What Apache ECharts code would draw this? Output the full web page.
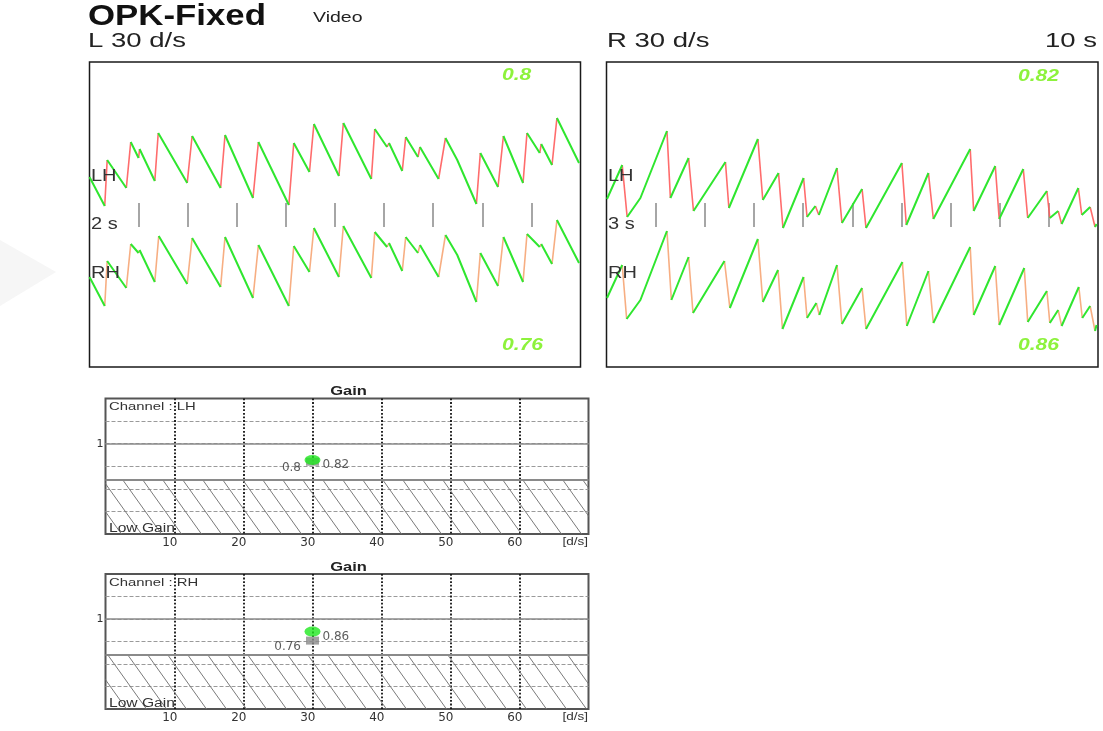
<!DOCTYPE html>
<html><head><meta charset="utf-8">
<script src="https://cdn.jsdelivr.net/npm/echarts@6/dist/echarts.min.js"></script>
<style>html,body{margin:0;padding:0;background:#fff}#c{width:1103px;height:731px}</style>
</head><body><div id="c"></div>
<script>
// ---------------- DATA ----------------
// Eye position traces (time in s, position in trace units), vertices of the nystagmus sawtooth
const leftLH_t = [0,0.31,0.36,0.75,0.84,1.00,1.02,1.33,1.40,1.99,2.09,2.67,2.76,3.33,3.44,4.06,4.16,4.48,4.57,5.08,5.17,5.74,5.81,6.06,6.10,6.37,6.44,6.69,6.73,7.11,7.25,7.49,7.88,7.96,8.32,8.43,8.83,8.91,9.17,9.20,9.42,9.52,9.97];
const leftLH_p = [190,161,207,179,225,209,218,186,234,184,231,179,232,169,225,162,224,195,243,191,244,188,238,220,224,196,230,210,220,188,229,207,163,214,180,231,184,234,214,223,202,249,204];
const leftRH_t = [0,0.31,0.36,0.75,0.84,1.00,1.02,1.33,1.41,1.99,2.09,2.67,2.76,3.33,3.44,4.06,4.16,4.48,4.57,5.08,5.17,5.74,5.81,6.06,6.10,6.37,6.44,6.69,6.73,7.11,7.25,7.49,7.88,7.96,8.32,8.43,8.83,8.91,9.17,9.20,9.42,9.52,9.97];
const leftRH_p = [90,61,106,79,123,114,117,85,131,83,129,80,130,69,122,61,121,95,139,90,141,89,135,120,124,96,130,114,122,90,132,112,65,114,81,130,85,133,120,123,103,147,104];
const rightLH_t = [0.01,0.32,0.42,0.69,1.23,1.30,1.67,1.77,2.42,2.49,3.08,3.18,3.50,3.59,4.01,4.08,4.25,4.32,4.69,4.79,5.20,5.28,6.01,6.10,6.55,6.65,7.40,7.47,7.91,7.99,8.48,8.57,8.96,9.02,9.19,9.26,9.60,9.67,9.84,9.94,9.97];
const rightLH_p = [168,202,150,169,236,169,209,156,205,159,228,167,194,139,189,150,161,152,199,144,178,139,204,142,194,148,218,156,201,148,198,149,176,149,156,143,179,152,160,140,143];
const rightRH_t = [0.01,0.32,0.41,0.69,1.23,1.32,1.67,1.76,2.40,2.51,3.08,3.18,3.49,3.58,4.01,4.08,4.27,4.33,4.69,4.79,5.20,5.28,6.02,6.11,6.55,6.65,7.40,7.47,7.91,7.99,8.50,8.57,8.96,9.02,9.19,9.26,9.61,9.68,9.84,9.94,9.97];
const rightRH_p = [69,102,48,67,136,67,110,54,106,59,128,65,97,38,90,49,64,52,102,43,79,38,105,41,96,44,120,52,101,42,99,45,76,44,57,41,80,49,61,36,42];
// time marks (s)
const timeMarks = [1,2,3,4,5,6,7,8,9];
// Gain per channel: L (left stimulus) and R (right stimulus) at 30 d/s
const gainSpeed = 30;
const gainLH = {L:0.8, R:0.82};
const gainRH = {L:0.76, R:0.86};
const lowGainLimit = 0.6;
const gainXTicks = [10,20,30,40,50,60];

// ---------------- HELPERS ----------------
function buildSegs(ts, ps, fastUp){
  const slow=[], fast=[]; let cur=null;
  for(let i=0;i<ts.length-1;i++){
    const up = ps[i+1]>ps[i];
    const isFast = fastUp ? up : !up;
    const arr = isFast ? fast : slow;
    const type = isFast ? 'f' : 's';
    if(type!==cur){
      if(arr.length) arr.push([ts[i],'-']);
      arr.push([ts[i],ps[i]]);
      cur=type;
    }
    arr.push([ts[i+1],ps[i+1]]);
  }
  return {slow, fast};
}
function hatch(){
  const c=document.createElement('canvas'); c.width=20; c.height=28;
  const g=c.getContext('2d'); g.strokeStyle='#7a7a7a'; g.lineWidth=1;
  g.beginPath();
  for(let k=-1;k<=1;k++){ g.moveTo(k*20,0); g.lineTo(k*20+20,28); }
  g.stroke(); return c;
}
const GREEN='#2fe62f', RED='#ff5c5c', ORANGE='#f6a574', NUM='#8df23c';
const FF='"Liberation Sans", Arial, sans-serif';
const FD='"DejaVu Sans", sans-serif';

const chart = echarts.init(document.getElementById('c'), null, {renderer:'canvas'});

const grids=[
  {left:89.5, top:62, width:491, height:305, show:true, borderColor:'#1a1a1a', borderWidth:1.5},
  {left:606.5, top:62, width:491.5, height:305, show:true, borderColor:'#1a1a1a', borderWidth:1.5},
  {left:89.5, top:203, width:491, height:24},
  {left:606.5, top:203, width:491.5, height:24},
  {left:105.5, top:398.5, width:483, height:135.5, show:true, borderColor:'#555', borderWidth:2},
  {left:105.5, top:574, width:483, height:135, show:true, borderColor:'#555', borderWidth:2}
];
const xAxes=[], yAxes=[];
for(let i=0;i<2;i++){
  xAxes.push({gridIndex:i, type:'value', min:0, max:10, show:false});
  yAxes.push({gridIndex:i, type:'value', min:0, max:305, show:false});
}
for(let i=2;i<4;i++){
  xAxes.push({gridIndex:i, type:'value', min:0, max:10, interval:1,
    axisLine:{show:false}, axisTick:{show:false}, axisLabel:{show:false},
    splitLine:{show:true, showMinLine:false, showMaxLine:false, lineStyle:{color:'#a6a6a6', width:2}}});
  yAxes.push({gridIndex:i, type:'value', min:0, max:1, show:false});
}
for(let i=4;i<6;i++){
  xAxes.push({gridIndex:i, type:'value', min:0, max:70, interval:10,
    axisLine:{show:false}, axisTick:{show:false},
    axisLabel:{fontSize:12, color:'#333', margin:3, fontFamily:FD, showMinLabel:false, showMaxLabel:false,
      align:'right', padding:[0,-3,0,0],
      formatter:v=>gainXTicks.indexOf(v)>=0?String(v):''},
    splitLine:{show:true, showMinLine:false, showMaxLine:false, lineStyle:{color:'#111', type:'dotted', width:1.8}}});
  yAxes.push({gridIndex:i, type:'value', min:0, max:1.5, interval:0.25,
    axisLine:{show:false}, axisTick:{show:false},
    axisLabel:{fontSize:11, color:'#333', margin:2, fontFamily:FD, formatter:v=>v===1?'1':''},
    splitLine:{show:true, showMinLine:false, showMaxLine:false, lineStyle:{color:'#9a9a9a', type:'dashed', width:1}}});
}

const series=[];
function addTrace(ts, ps, fastUp, gi, fastColor){
  const s=buildSegs(ts, ps, fastUp);
  series.push({type:'line', xAxisIndex:gi, yAxisIndex:gi, data:s.slow, showSymbol:false, silent:true,
    lineStyle:{color:GREEN, width:2}, z:3});
  series.push({type:'line', xAxisIndex:gi, yAxisIndex:gi, data:s.fast, showSymbol:false, silent:true,
    lineStyle:{color:fastColor, width:1.6, opacity:0.9}, z:2});
}
addTrace(leftLH_t, leftLH_p, true, 0, RED);
addTrace(leftRH_t, leftRH_p, true, 0, ORANGE);
addTrace(rightLH_t, rightLH_p, false, 1, RED);
addTrace(rightRH_t, rightRH_p, false, 1, ORANGE);
series.push({type:'line', xAxisIndex:2, yAxisIndex:2, data:[]});
series.push({type:'line', xAxisIndex:3, yAxisIndex:3, data:[]});

const pat = {image:hatch(), repeat:'repeat'};
[[4,gainLH],[5,gainRH]].forEach(([gi,g])=>{
  series.push({type:'scatter', xAxisIndex:gi, yAxisIndex:gi, data:[[gainSpeed,g.L]],
    symbol:'rect', symbolSize:[13,8], itemStyle:{color:'#8a8a8a'}, z:4,
    label:{show:true, position:'left', distance:5, offset:[0,6], color:'#333', fontSize:12, fontFamily:FD,
      formatter:p=>String(p.value[1])},
    markArea:{silent:true, itemStyle:{color:pat, borderWidth:0}, data:[[{yAxis:0},{yAxis:lowGainLimit}]]},
    markLine:{silent:true, symbol:'none', label:{show:false},
      data:[{yAxis:1, lineStyle:{color:'#8a8a8a', type:'solid', width:1.5}},
            {yAxis:lowGainLimit, lineStyle:{color:'#8a8a8a', type:'solid', width:2}}]}
  });
  series.push({type:'scatter', xAxisIndex:gi, yAxisIndex:gi, data:[[gainSpeed,g.R]],
    symbol:'circle', symbolSize:[16,10], itemStyle:{color:'#1fe81f'}, z:5,
    label:{show:true, position:'right', distance:2, offset:[0,5], color:'#333', fontSize:12, fontFamily:FD,
      formatter:p=>String(p.value[1])}
  });
});

function txt(t,x,y,size,opts){
  opts=opts||{};
  return {type:'text', x:x, y:y, scaleX:opts.sx||1, silent:true, z:10,
    style:{text:t, font:(opts.w||'')+' '+size+'px '+FF, fill:opts.c||'#222',
      textAlign:opts.a||'left', textVerticalAlign:'middle'}};
}
const graphics=[
  {type:'polygon', shape:{points:[[0,240],[56,272],[0,306]]}, style:{fill:'#f6f6f6'}, silent:true, z:0},
  txt('OPK-Fixed',88,16.5,30,{w:'bold',sx:1.16,c:'#111'}),
  txt('Video',313,18,15,{sx:1.3}),
  txt('L 30 d/s',88,41,21,{sx:1.31}),
  txt('R 30 d/s',607,41,21,{sx:1.31}),
  txt('10 s',1097,41,21,{sx:1.31,a:'right'}),
  txt('LH',91,177,16,{sx:1.25,c:'#333'}),
  txt('2 s',91,225,16,{sx:1.25,c:'#333'}),
  txt('RH',91,274,16,{sx:1.25,c:'#333'}),
  txt('LH',608,177,16,{sx:1.25,c:'#333'}),
  txt('3 s',608,225,16,{sx:1.25,c:'#333'}),
  txt('RH',608,274,16,{sx:1.25,c:'#333'}),
  txt(String(gainLH.L),502,76,16,{w:'italic bold',sx:1.32,c:NUM}),
  txt(String(gainRH.L),502,346,16,{w:'italic bold',sx:1.32,c:NUM}),
  txt(String(gainLH.R),1018,77,16,{w:'italic bold',sx:1.32,c:NUM}),
  txt(String(gainRH.R),1018,346,16,{w:'italic bold',sx:1.32,c:NUM})
];
[[398.5,534,'LH'],[574,709,'RH']].forEach(([top,bot,ch])=>{
  graphics.push(txt('Gain',348.5,top-7,13,{w:'bold',sx:1.27,a:'center'}));
  graphics.push(txt('Channel : '+ch,109,top+8.5,11,{sx:1.35,c:'#333'}));
  graphics.push(txt('Low Gain',109,bot-5.5,12,{sx:1.3,c:'#333'}));
  graphics.push(txt('[d/s]',588,bot+8.5,10,{sx:1.35,a:'right',c:'#333'}));
});

chart.setOption({
  animation:false,
  backgroundColor:'#fff',
  grid:grids, xAxis:xAxes, yAxis:yAxes, series:series, graphic:graphics
});
</script></body></html>
